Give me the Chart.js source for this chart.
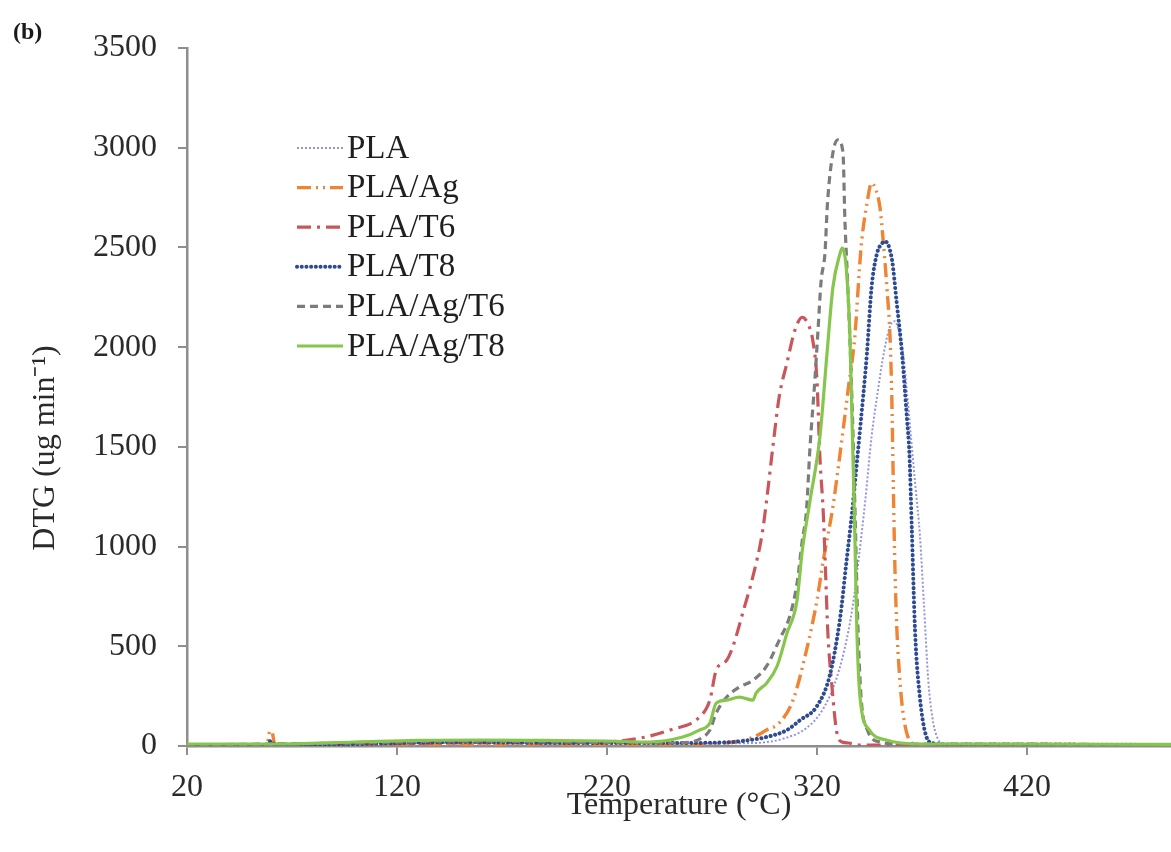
<!DOCTYPE html>
<html>
<head>
<meta charset="utf-8">
<script src="https://cdn.jsdelivr.net/npm/chart.js@4/dist/chart.umd.min.js"></script>
<style>
  html, body { margin: 0; padding: 0; background: #ffffff; }
  #wrap { position: relative; width: 1171px; height: 852px; }
  canvas { display: block; }
</style>
</head>
<body>
<div id="wrap"><canvas id="c" width="1171" height="852"></canvas></div>
<script>
// ---- data ----
const seriesNames = ["PLA", "PLA/Ag", "PLA/T6", "PLA/T8", "PLA/Ag/T6", "PLA/Ag/T8"];
const xTicks = [20, 120, 220, 320, 420];
const yTicks = [0, 500, 1000, 1500, 2000, 2500, 3000, 3500];

const tPLA = [20, 40, 60, 100, 150, 200, 250, 290, 305, 315, 322, 328, 333, 337, 340, 343, 346, 349, 352, 355, 357, 359, 361, 363, 365, 367, 369, 371, 373, 375, 377, 380, 400, 450, 488.6];
const vPLA = [5, 8, 10, 12, 15, 15, 12, 15, 40, 90, 170, 300, 480, 700, 950, 1230, 1550, 1780, 1980, 2110, 2130, 2080, 1970, 1760, 1520, 1290, 1060, 700, 330, 140, 50, 10, 8, 8, 5];

const tAg = [20, 40, 58, 59.5, 60.5, 62, 100, 150, 200, 250, 280, 290, 296, 302, 308.6, 315, 320, 323, 327.6, 330, 332.4, 335, 338, 341, 343.8, 346, 348, 350, 351.4, 353.3, 354.8, 355.7, 356.3, 357, 358, 359.5, 361, 364, 368, 400, 450, 488.6];
const vAg = [0, 0, 0, 75, 70, 0, 2, 5, 3, 5, 20, 45, 80, 115, 230, 480, 730, 930, 1200, 1385, 1580, 1800, 2050, 2500, 2720, 2823, 2790, 2700, 2550, 2300, 2050, 1720, 1350, 950, 600, 330, 165, 30, 5, 3, 3, 3];

const tT6 = [20, 60, 100, 150, 200, 220, 236, 250, 264, 269, 272, 277, 280, 285, 289.5, 294, 296, 299, 302, 305.7, 309.5, 313, 316, 318, 320, 321.4, 323, 324, 325.2, 327, 329.5, 332, 335, 340, 350, 400, 488.6];
const vT6 = [5, 8, 10, 15, 15, 20, 40, 80, 145, 230, 380, 430, 500, 680, 850, 1070, 1230, 1500, 1750, 1920, 2085, 2150, 2110, 2035, 1835, 1450, 1170, 900, 565, 315, 65, 20, 15, 5, 5, 5, 5];

const tT8 = [20, 58, 60, 62, 100, 150, 200, 250, 280, 288, 296, 305.7, 312, 320, 326, 331, 334, 336.7, 339, 340.5, 343.8, 346, 348.6, 351, 352.4, 355.7, 358, 360.5, 362.9, 364, 365.2, 366.7, 369, 372, 375, 380, 400, 488.6];
const vT8 = [5, 5, 25, 5, 10, 20, 15, 15, 20, 30, 45, 80, 130, 200, 350, 640, 920, 1170, 1420, 1585, 1970, 2300, 2470, 2520, 2530, 2440, 2220, 1970, 1635, 1470, 1080, 580, 245, 50, 15, 8, 8, 5];

const tAgT6 = [20, 60, 100, 150, 200, 250, 260, 265, 269, 272, 277, 283, 289.5, 296, 302, 307, 310.5, 313, 315, 316.7, 319, 320.5, 322, 323.8, 325, 327.6, 330, 332.4, 333.3, 334.5, 336, 337.2, 338.3, 339.5, 341, 344, 350, 360, 400, 488.6];
const vAgT6 = [5, 10, 15, 25, 20, 15, 20, 40, 80, 165, 245, 295, 330, 400, 530, 650, 815, 1030, 1180, 1500, 1835, 2085, 2335, 2470, 2720, 2975, 3040, 2975, 2640, 2350, 1950, 1550, 1100, 600, 245, 80, 20, 10, 10, 5];

const tAgT8 = [20, 60, 100, 130, 160, 190, 220, 240, 256, 264, 269, 272, 277, 283, 289.5, 291, 296, 301, 305.7, 310.5, 313, 316.7, 321.4, 324.8, 327.6, 331, 332, 334, 335.7, 336.7, 338, 339, 340.5, 345, 353, 370, 400, 488.6];
const vAgT8 = [10, 10, 20, 28, 30, 28, 25, 20, 45, 80, 115, 215, 230, 245, 230, 265, 315, 400, 565, 730, 980, 1230, 1550, 1970, 2300, 2470, 2497, 2390, 2050, 1635, 1080, 580, 245, 80, 30, 10, 10, 8];

// ---- styles ----
const styles = [
  { color: "#9494dc", width: 2.0, dash: [2, 2], cap: "butt" },
  { color: "#ee8434", width: 3.4, dash: [14, 5, 2, 5, 2, 5], cap: "butt" },
  { color: "#c8565a", width: 3.2, dash: [14, 6, 3, 6], cap: "butt" },
  { color: "#2d4b92", width: 4.0, dash: [0.1, 4.6], cap: "round" },
  { color: "#7c7c7c", width: 3.2, dash: [8, 5], cap: "butt" },
  { color: "#86c64c", width: 3.2, dash: [], cap: "butt" }
];

function pts(t, v) {
  const n = Math.min(t.length, v.length);
  const out = [];
  for (let i = 0; i < n; i++) out.push({ x: t[i], y: v[i] });
  return out;
}
const seriesData = [pts(tPLA, vPLA), pts(tAg, vAg), pts(tT6, vT6), pts(tT8, vT8), pts(tAgT6, vAgT6), pts(tAgT8, vAgT8)];

const datasets = seriesNames.map((name, i) => ({
  label: name,
  data: seriesData[i],
  borderColor: styles[i].color,
  backgroundColor: styles[i].color,
  borderWidth: styles[i].width,
  borderDash: styles[i].dash,
  borderCapStyle: styles[i].cap,
  pointRadius: 0,
  fill: false,
  cubicInterpolationMode: "monotone",
  order: 6 - i
}));

Chart.defaults.font.family = "'Liberation Serif', 'Times New Roman', serif";
Chart.defaults.color = "#2a2a2a";

const textFont = "'Liberation Serif', 'Times New Roman', serif";

const extras = {
  id: "extras",
  afterDraw(chart) {
    const ctx = chart.ctx;
    ctx.save();
    // y axis title
    ctx.fillStyle = "#2a2a2a";
    ctx.font = "32px " + textFont;
    ctx.textAlign = "center";
    ctx.textBaseline = "middle";
    ctx.translate(46, 448);
    ctx.rotate(-Math.PI / 2);
    ctx.fillText("DTG (ug min\u207B\u00B9)", 0, 0);
    ctx.restore();

    // panel letter
    ctx.save();
    ctx.fillStyle = "#1a1a1a";
    ctx.font = "bold 24px " + textFont;
    ctx.textAlign = "left";
    ctx.textBaseline = "middle";
    ctx.fillText("(b)", 13, 33);
    ctx.restore();

    // legend
    ctx.save();
    chart.data.datasets.forEach((ds, i) => {
      const y = 148 + i * 39.6;
      ctx.beginPath();
      ctx.strokeStyle = ds.borderColor;
      ctx.lineWidth = ds.borderWidth;
      ctx.setLineDash(ds.borderDash);
      ctx.lineCap = ds.borderCapStyle;
      ctx.moveTo(297, y);
      ctx.lineTo(343, y);
      ctx.stroke();
      ctx.setLineDash([]);
      ctx.fillStyle = "#1f1f1f";
      ctx.font = "33px " + textFont;
      ctx.textAlign = "left";
      ctx.textBaseline = "middle";
      ctx.fillText(ds.label, 347, y + 1);
    });
    ctx.restore();
  }
};

new Chart(document.getElementById("c"), {
  type: "line",
  data: { datasets },
  options: {
    responsive: false,
    animation: false,
    layout: { padding: { left: 0, right: 0, top: 48, bottom: 0 } },
    plugins: { legend: { display: false }, tooltip: { enabled: false } },
    scales: {
      x: {
        type: "linear",
        min: 20,
        max: 488.6,
        afterBuildTicks(scale) { scale.ticks = xTicks.map(v => ({ value: v })); },
        afterFit(scale) { scale.height = 106; },
        border: { display: true, color: "#8e8e8e", width: 2.5 },
        grid: { display: true, drawOnChartArea: false, drawTicks: true, tickLength: 9, color: "#8e8e8e", lineWidth: 2 },
        ticks: { font: { size: 32 }, padding: 13, maxRotation: 0, color: "#2a2a2a", callback: v => String(v) },
        title: { display: true, text: "Temperature (\u00B0C)", font: { size: 32 }, padding: { top: 0, bottom: 27 }, color: "#2a2a2a" }
      },
      y: {
        type: "linear",
        min: 0,
        max: 3500,
        afterBuildTicks(scale) { scale.ticks = yTicks.map(v => ({ value: v })); },
        afterFit(scale) { scale.width = 187; },
        border: { display: true, color: "#8e8e8e", width: 2.5 },
        grid: { display: true, drawOnChartArea: false, drawTicks: true, tickLength: 9, color: "#8e8e8e", lineWidth: 2 },
        ticks: { font: { size: 32 }, padding: 21, color: "#2a2a2a", callback: v => String(v) },
        title: { display: false }
      }
    }
  },
  plugins: [extras]
});
</script>
</body>
</html>
